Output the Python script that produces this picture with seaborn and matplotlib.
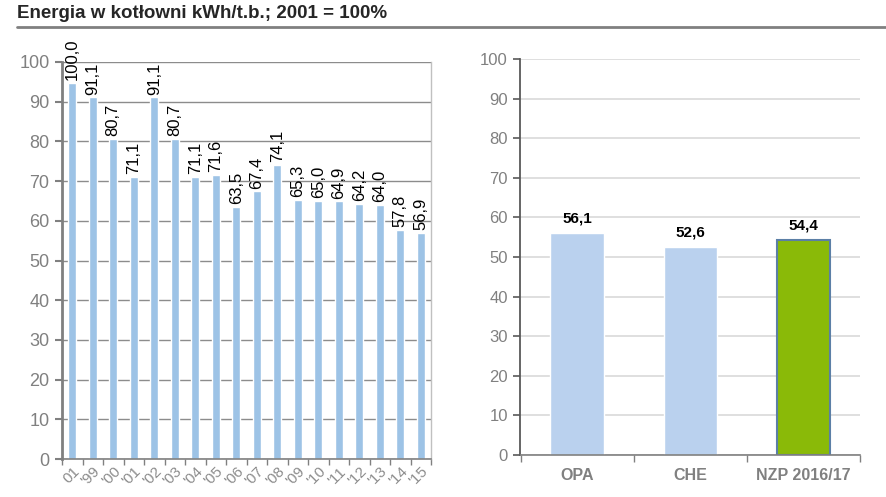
import matplotlib
matplotlib.use("Agg")
import matplotlib.pyplot as plt
import seaborn as sns
from matplotlib.lines import Line2D

sns.set_style("white")
plt.rcParams["font.family"] = ["Liberation Sans", "DejaVu Sans"]

# left chart: yearly energy index (bar heights as drawn, labels as printed)
years = ["01", "'99", "'00", "'01", "'02", "'03", "'04", "'05", "'06",
         "'07", "'08", "'09", "'10", "'11", "'12", "'13", "'14", "'15"]
year_heights = [94.7, 91.1, 80.7, 71.1, 91.1, 80.7, 71.1, 71.6, 63.5,
                67.4, 74.1, 65.3, 65.0, 64.9, 64.2, 64.0, 57.8, 56.9]
year_labels = ["100,0", "91,1", "80,7", "71,1", "91,1", "80,7", "71,1", "71,6", "63,5",
               "67,4", "74,1", "65,3", "65,0", "64,9", "64,2", "64,0", "57,8", "56,9"]

# right chart: comparison
groups = ["OPA", "CHE", "NZP 2016/17"]
group_values = [56.1, 52.6, 54.4]
group_colors = ["#bad1ee", "#bad1ee", "#8aba08"]

fig = plt.figure(figsize=(8.87, 4.97), dpi=100)

# title + underline
fig.text(17 / 887, 1 - 13 / 497, "Energia w kotłowni kWh/t.b.; 2001 = 100%",
         fontsize=13.5, fontweight="bold", va="center", ha="left")
fig.add_artist(Line2D([17 / 887, 1.0], [1 - 27 / 497] * 2, color="#808080", lw=2,
                      transform=fig.transFigure))

# ---- left chart
ax1 = fig.add_axes([62 / 887, 1 - 459 / 497, 369 / 887, 397 / 497])
idx = list(range(len(years)))
sns.barplot(x=idx, y=year_heights, color="#9dc3e6", width=0.4, saturation=1, ax=ax1)
ax1.set_ylim(0, 100)
ax1.set_xlim(-0.5, len(years) - 0.5)
ax1.set_yticks(range(0, 101, 10))
ax1.yaxis.grid(True, color="#8c8c8c", lw=1)
ax1.set_axisbelow(True)
ax1.tick_params(axis="y", labelsize=13, labelcolor="#808080", length=5,
                width=1.5, color="#808080", left=True, direction="out", pad=4)
ax1.set_xticks([i - 0.5 for i in range(len(years) + 1)], minor=True)
ax1.set_xticks(idx)
ax1.set_xticklabels(years, rotation=45, ha="right", rotation_mode="anchor",
                    fontsize=11, color="#8c8c8c")
ax1.tick_params(axis="x", which="major", length=0, pad=4)
ax1.tick_params(axis="x", which="minor", length=4, width=1, color="#808080",
                bottom=True, direction="out")
ax1.spines["top"].set_visible(False)
ax1.spines["left"].set_color("#808080")
ax1.spines["left"].set_linewidth(2)
ax1.spines["bottom"].set_color("#808080")
ax1.spines["bottom"].set_linewidth(1.2)
ax1.spines["right"].set_color("#c0c0c0")
ax1.spines["right"].set_linewidth(1)
for i, (h, lab) in enumerate(zip(year_heights, year_labels)):
    ax1.annotate(lab, (i, h), xytext=(0, 2), textcoords="offset points",
                 rotation=90, ha="center", va="bottom", fontsize=12,
                 color="black", annotation_clip=False)

# ---- right chart
ax2 = fig.add_axes([520.5 / 887, 1 - 455 / 497, 339.5 / 887, 396 / 497])
sns.barplot(x=groups, y=group_values, hue=groups, palette=group_colors,
            width=0.47, saturation=1, legend=False, ax=ax2)
ax2.patches[2].set_edgecolor("#5b7fa6")
ax2.patches[2].set_linewidth(1.5)
ax2.set_ylim(0, 100)
ax2.set_xlim(-0.5, 2.5)
ax2.set_yticks(range(0, 101, 10))
ax2.yaxis.grid(True, color="#d9d9d9", lw=1.2)
ax2.set_axisbelow(True)
ax2.tick_params(axis="y", labelsize=12, labelcolor="#808080", length=5,
                width=1.2, color="#595959", left=True, direction="out", pad=4)
ax2.set_xticks([-0.5, 0.5, 1.5, 2.5], minor=True)
ax2.tick_params(axis="x", which="major", length=0, pad=9, labelsize=11.5,
                labelcolor="#808080")
for t in ax2.get_xticklabels():
    t.set_fontweight("bold")
ax2.tick_params(axis="x", which="minor", length=5, width=1, color="#808080",
                bottom=True, direction="out")
for side in ["top", "right"]:
    ax2.spines[side].set_visible(False)
ax2.spines["left"].set_color("#595959")
ax2.spines["left"].set_linewidth(1.3)
ax2.spines["bottom"].set_color("#808080")
ax2.spines["bottom"].set_linewidth(1.2)
for i, v in enumerate(group_values):
    ax2.annotate(f"{v:.1f}".replace(".", ","), (i, v), xytext=(0, 5),
                 textcoords="offset points", ha="center", va="bottom",
                 fontsize=11, fontweight="bold", color="black")

ax1.set_xlabel("")
ax2.set_xlabel("")
fig.savefig("out.png", dpi=100)
